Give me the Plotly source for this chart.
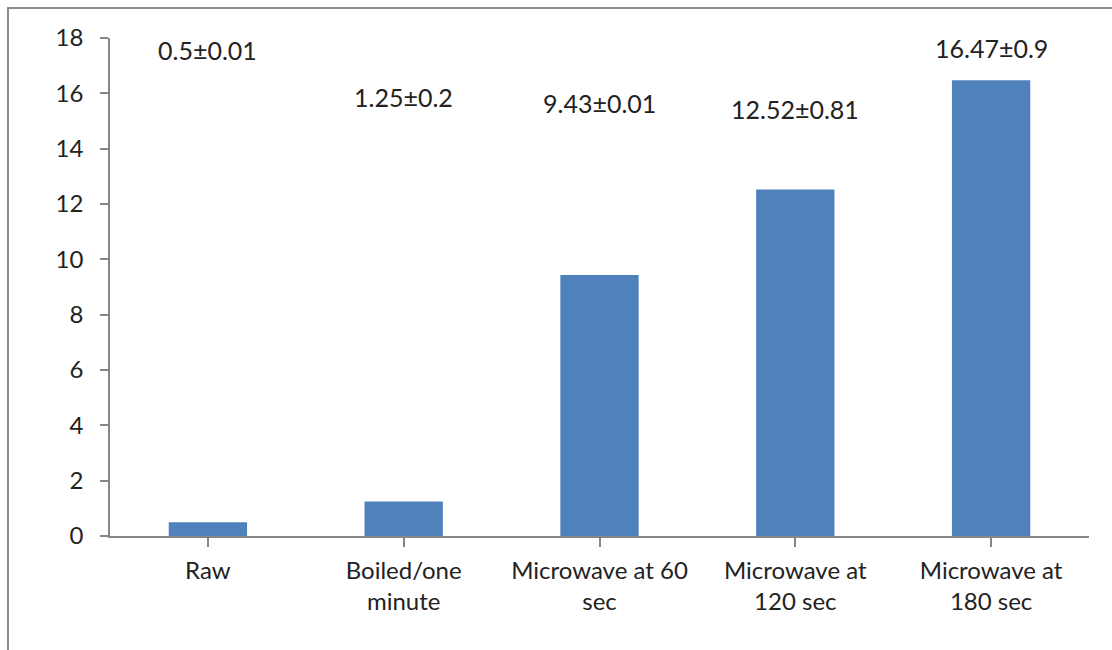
import plotly.graph_objects as go

# Treatments and measured means with their standard deviations
categories = ["Raw", "Boiled/one<br>minute", "Microwave at 60<br>sec",
              "Microwave at<br>120 sec", "Microwave at<br>180 sec"]
means = [0.5, 1.25, 9.43, 12.52, 16.47]
errors = [0.01, 0.2, 0.01, 0.81, 0.9]
y_ticks = [0, 2, 4, 6, 8, 10, 12, 14, 16, 18]

# Vertical placement (data units) for each value label
label_heights = [17.55, 15.85, 15.65, 15.45, 17.65]

FONT = "Lato"
TEXT = "#222222"
AXIS = "#868686"
BAR = "#4F81BD"

fig = go.Figure()
fig.add_trace(go.Bar(
    x=list(range(len(categories))),
    y=means,
    marker=dict(color=BAR, line=dict(width=0)),
    width=0.4,
    showlegend=False,
))

for i, (m, e) in enumerate(zip(means, errors)):
    fig.add_annotation(
        x=i, y=label_heights[i], xref="x", yref="y",
        text=f"{m}\u00b1{e}", showarrow=False,
        font=dict(family=FONT, size=25, color=TEXT),
        xanchor="center", yanchor="middle",
    )

# Outer chart frame
fig.add_shape(
    type="rect", xref="paper", yref="paper",
    x0=-0.1042, x1=1.2, y0=-0.3, y1=1.0602,
    line=dict(color="#8c8c8c", width=2), fillcolor="rgba(0,0,0,0)",
    layer="below",
)

fig.update_layout(
    width=1112, height=650,
    margin=dict(l=110, r=23, t=38, b=114),
    paper_bgcolor="white", plot_bgcolor="white",
    font=dict(family=FONT, size=24, color=TEXT),
    xaxis=dict(
        tickmode="array",
        tickvals=list(range(len(categories))),
        ticktext=categories,
        range=[-0.5, len(categories) - 0.5],
        showline=True, linecolor=AXIS, linewidth=1.5,
        ticks="outside", ticklen=9, tickcolor=AXIS, tickwidth=1.5,
        showgrid=False, zeroline=False,
        ticklabelstandoff=3,
        tickfont=dict(family=FONT, size=24, color=TEXT),
    ),
    yaxis=dict(
        range=[0, 18],
        tickvals=y_ticks,
        showline=True, linecolor=AXIS, linewidth=1.5,
        ticks="outside", ticklen=8, tickcolor=AXIS, tickwidth=1.5,
        showgrid=False, zeroline=False,
        ticklabelstandoff=12,
        tickfont=dict(family=FONT, size=24, color=TEXT),
    ),
)

# Category boundary ticks on the x axis
fig.update_xaxes(tickson="boundaries")

fig.write_html("out.html")
